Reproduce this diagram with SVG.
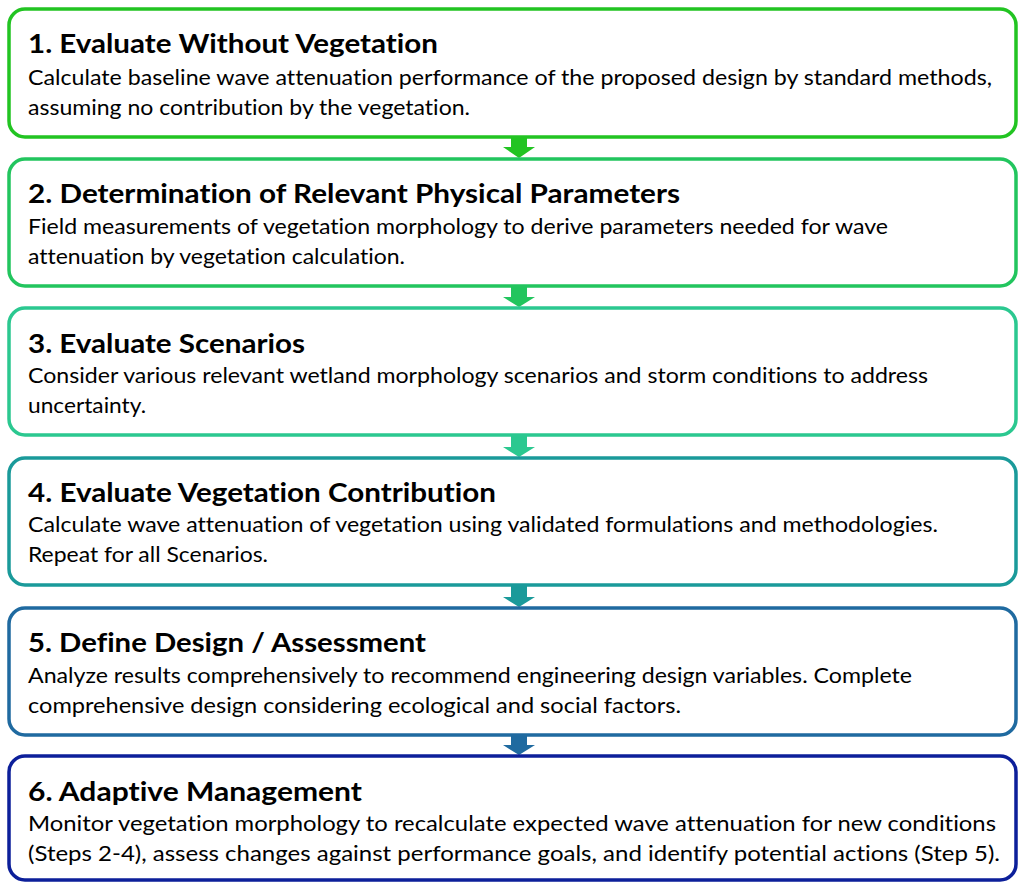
<svg xmlns="http://www.w3.org/2000/svg" width="1018" height="882" viewBox="0 0 1018 882">
<style>
.box{fill:#fff;stroke-width:3.5}
.t{font-family:Lato,"Open Sans","Liberation Sans",sans-serif;font-weight:bold;font-size:27px;fill:#000;font-variant-ligatures:none;font-feature-settings:"liga" 0,"clig" 0,"dlig" 0}
.b{font-family:Lato,"Open Sans","Liberation Sans",sans-serif;font-size:21px;fill:#000;font-variant-ligatures:none;font-feature-settings:"liga" 0,"clig" 0,"dlig" 0}
</style>
<rect width="1018" height="882" fill="#fff"/>
<g id="connectors">
<path d="M511 137 V147 H503 L519 158 L535 147 H527 V137 Z" fill="#22c422"/>
<path d="M511 286 V297 H503 L519 307 L535 297 H527 V286 Z" fill="#22c55e"/>
<path d="M511 435 V447 H503 L519 457 L535 447 H527 V435 Z" fill="#2bc890"/>
<path d="M511 585 V597 H503 L519 607 L535 597 H527 V585 Z" fill="#1a9a9a"/>
<path d="M511 735 V745 H503 L519 755 L535 745 H527 V735 Z" fill="#1f6aa0"/>
</g>
<g id="step1">
<rect class="box" x="9" y="9" width="1007" height="128" rx="16" stroke="#22c422"/>
<text class="t" x="28" y="53" textLength="410" lengthAdjust="spacingAndGlyphs">1. Evaluate Without Vegetation</text>
<text class="b" x="28" y="85" textLength="964" lengthAdjust="spacingAndGlyphs">Calculate baseline wave attenuation performance of the proposed design by standard methods,</text>
<text class="b" x="28" y="115" textLength="442" lengthAdjust="spacingAndGlyphs">assuming no contribution by the vegetation.</text>
</g>
<g id="step2">
<rect class="box" x="9" y="159" width="1007" height="127" rx="16" stroke="#22c55e"/>
<text class="t" x="28" y="203" textLength="652" lengthAdjust="spacingAndGlyphs">2. Determination of Relevant Physical Parameters</text>
<text class="b" x="28" y="234" textLength="860" lengthAdjust="spacingAndGlyphs">Field measurements of vegetation morphology to derive parameters needed for wave</text>
<text class="b" x="28" y="264" textLength="377" lengthAdjust="spacingAndGlyphs">attenuation by vegetation calculation.</text>
</g>
<g id="step3">
<rect class="box" x="9" y="308" width="1007" height="127" rx="16" stroke="#2bc890"/>
<text class="t" x="28" y="353" textLength="277" lengthAdjust="spacingAndGlyphs">3. Evaluate Scenarios</text>
<text class="b" x="28" y="383" textLength="900" lengthAdjust="spacingAndGlyphs">Consider various relevant wetland morphology scenarios and storm conditions to address</text>
<text class="b" x="28" y="413" textLength="118" lengthAdjust="spacingAndGlyphs">uncertainty.</text>
</g>
<g id="step4">
<rect class="box" x="9" y="458" width="1007" height="127" rx="16" stroke="#1a9a9a"/>
<text class="t" x="28" y="502" textLength="468" lengthAdjust="spacingAndGlyphs">4. Evaluate Vegetation Contribution</text>
<text class="b" x="28" y="532" textLength="910" lengthAdjust="spacingAndGlyphs">Calculate wave attenuation of vegetation using validated formulations and methodologies.</text>
<text class="b" x="28" y="562" textLength="240" lengthAdjust="spacingAndGlyphs">Repeat for all Scenarios.</text>
</g>
<g id="step5">
<rect class="box" x="9" y="608" width="1007" height="127" rx="16" stroke="#1f6aa0"/>
<text class="t" x="28" y="652" textLength="398" lengthAdjust="spacingAndGlyphs">5. Define Design / Assessment</text>
<text class="b" x="28" y="683" textLength="884" lengthAdjust="spacingAndGlyphs">Analyze results comprehensively to recommend engineering design variables. Complete</text>
<text class="b" x="28" y="713" textLength="653" lengthAdjust="spacingAndGlyphs">comprehensive design considering ecological and social factors.</text>
</g>
<g id="step6">
<rect class="box" x="9" y="756" width="1007" height="124" rx="16" stroke="#0c1f9a"/>
<text class="t" x="28" y="801" textLength="334" lengthAdjust="spacingAndGlyphs">6. Adaptive Management</text>
<text class="b" x="28" y="831" textLength="968" lengthAdjust="spacingAndGlyphs">Monitor vegetation morphology to recalculate expected wave attenuation for new conditions</text>
<text class="b" x="28" y="861" textLength="972" lengthAdjust="spacingAndGlyphs">(Steps 2-4), assess changes against performance goals, and identify potential actions (Step 5).</text>
</g>
</svg>
